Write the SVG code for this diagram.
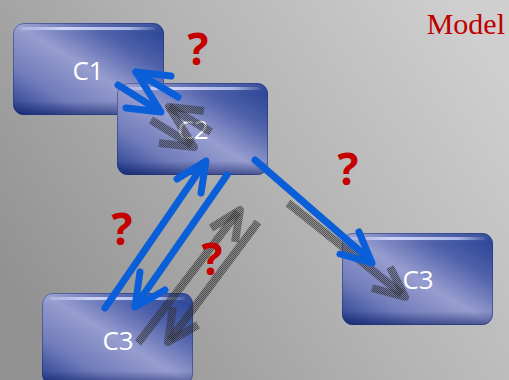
<svg xmlns="http://www.w3.org/2000/svg" width="509" height="380" viewBox="0 0 509 380">
<defs>
<linearGradient id="bg" x1="0" y1="0.7" x2="1" y2="0.2">
<stop offset="0" stop-color="#929292"/>
<stop offset="0.5" stop-color="#b2b2b2"/>
<stop offset="1" stop-color="#cfcfcf"/>
</linearGradient>
<linearGradient id="boxG" x1="1" y1="0" x2="0" y2="1">
<stop offset="0" stop-color="#233f91"/>
<stop offset="0.25" stop-color="#4e60aa"/>
<stop offset="0.5" stop-color="#979dcf"/>
<stop offset="0.75" stop-color="#707cba"/>
<stop offset="1" stop-color="#223b8c"/>
</linearGradient>
<linearGradient id="shade" x1="0" y1="0" x2="0" y2="1">
<stop offset="0" stop-color="#ffffff" stop-opacity="0.1"/>
<stop offset="0.12" stop-color="#ffffff" stop-opacity="0"/>
<stop offset="0.85" stop-color="#0a1a60" stop-opacity="0"/>
<stop offset="1" stop-color="#0a1a60" stop-opacity="0.55"/>
</linearGradient>
<linearGradient id="hl" x1="0" y1="0" x2="1" y2="0">
<stop offset="0" stop-color="#d8dcff" stop-opacity="0.3"/>
<stop offset="0.3" stop-color="#d8dcff" stop-opacity="0.9"/>
<stop offset="0.8" stop-color="#d8dcff" stop-opacity="0.7"/>
<stop offset="1" stop-color="#d8dcff" stop-opacity="0.1"/>
</linearGradient>
<pattern id="hatch" width="2" height="2" patternUnits="userSpaceOnUse">
<rect width="2" height="2" fill="#404040" fill-opacity="0.3"/>
<rect width="1" height="1" fill="#202020" fill-opacity="0.55"/>
<rect x="1" y="1" width="1" height="1" fill="#202020" fill-opacity="0.55"/>
</pattern>
<g id="box">
<rect width="151" height="92" rx="11" fill="url(#boxG)"/>
<rect width="151" height="92" rx="11" fill="url(#shade)"/>
<rect x="8" y="4" width="135" height="3" rx="1.5" fill="url(#hl)"/>
<rect x="0.5" y="0.5" width="150" height="91" rx="10.5" fill="none" stroke="#1b2f7a" stroke-opacity="0.5"/>
</g>
</defs>
<style>
.lbl{font-family:"Open Sans","Noto Sans","Liberation Sans",sans-serif;font-size:26px;fill:#ffffff;text-anchor:middle}
.q{font-family:"Open Sans","Liberation Sans",sans-serif;font-size:44px;font-weight:bold;fill:#c40000;text-anchor:middle}
.blue{fill:none;stroke:#0a5fd8;stroke-width:7;stroke-linecap:round;stroke-linejoin:round}
.grey{fill:none;stroke:url(#hatch);stroke-width:8;stroke-linejoin:round}
</style>
<rect width="509" height="380" fill="url(#bg)"/>
<text x="505" y="34" font-family="Liberation Serif,serif" font-size="30" fill="#c00000" text-anchor="end">Model</text>
<g id="node-c1">
<use href="#box" x="13" y="23"/>
<text class="lbl" x="88" y="80">C1</text>
</g>
<g id="node-c2">
<use href="#box" x="117" y="83"/>
<text class="lbl" x="193" y="139">C2</text>
</g>
<g id="node-c3-right">
<use href="#box" x="342" y="233"/>
<text class="lbl" x="418" y="289">C3</text>
</g>
<g id="node-c3-bottom">
<use href="#box" x="42" y="293"/>
<text class="lbl" x="118" y="350">C3</text>
</g>
<g id="connectors">
<g id="shadows">
<path class="grey" d="M151,120 L192,145"/>
<path class="grey" d="M159,143 L194,147 L169,107 L204,111"/>
<path class="grey" d="M169,107 L211,132"/>
<path class="grey" d="M138,343 L238,212"/>
<path class="grey" d="M211,228 L240,210 L235,242"/>
<path class="grey" d="M258,222 L170,340"/>
<path class="grey" d="M173,307 L168,342 L198,325"/>
<path class="grey" d="M288,203 L402,294"/>
<path class="grey" d="M390,267 L405,297 L372,288"/>
</g>
<g id="arrows">
<path class="blue" d="M118,85 L158,110"/>
<path class="blue" d="M126,108 L161,112 L136,72 L171,76"/>
<path class="blue" d="M136,72 L178,97"/>
<path class="blue" d="M105,308 L204,164"/>
<path class="blue" d="M177,179 L206,161 L201,193"/>
<path class="blue" d="M227,175 L137,304"/>
<path class="blue" d="M140,272 L135,307 L165,290"/>
<path class="blue" d="M255,160 L369,259"/>
<path class="blue" d="M359,232 L372,263 L340,254"/>
</g>
</g>
<g id="marks">
<text class="q" x="198" y="65">?</text>
<text class="q" x="348" y="185">?</text>
<text class="q" x="122" y="245">?</text>
<text class="q" x="212" y="275">?</text>
</g>
</svg>
